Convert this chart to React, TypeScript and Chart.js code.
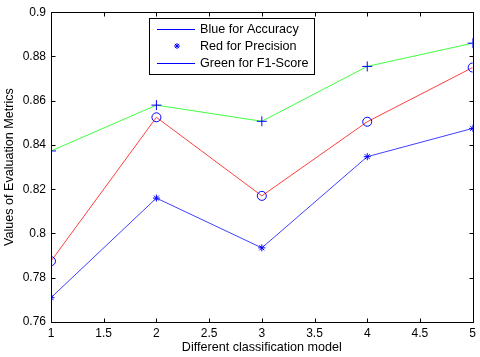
import React, { useEffect, useRef } from "react";
import { Chart, registerables } from "chart.js";

Chart.register(...registerables);

const models = [1, 2, 3, 4, 5];
const accuracy = [0.771, 0.816, 0.7935, 0.8347, 0.8475];
const precision = [0.7875, 0.8525, 0.817, 0.8505, 0.875];
const f1Score = [0.8373, 0.858, 0.8507, 0.8755, 0.886];
const legendLabels = ["Blue for Accuracy", "Red for Precision", "Green for F1-Score"];
const xTickValues = [1, 1.5, 2, 2.5, 3, 3.5, 4, 4.5, 5];
const yTickValues = [0.76, 0.78, 0.8, 0.82, 0.84, 0.86, 0.88, 0.9];
const xTitle = "Different classification model";
const yTitle = "Values of Evaluation Metrics";

const FONT = "'Liberation Sans', Arial, sans-serif";

const boxPlugin = {
  id: "matlabBox",
  afterDatasetsDraw(chart: any) {
    const { ctx, chartArea } = chart;
    const { left, right, top, bottom } = chartArea;
    const xs = chart.scales.x;
    const ys = chart.scales.y;
    ctx.save();
    ctx.strokeStyle = "#000";
    ctx.lineWidth = 1;
    const L = Math.round(left) + 0.5;
    const R = Math.round(right) + 0.5;
    const T = Math.round(top) + 0.5;
    const B = Math.round(bottom) + 0.5;
    ctx.beginPath();
    ctx.rect(L, T, R - L, B - T);
    ctx.stroke();
    const tl = 4;
    ctx.beginPath();
    xTickValues.forEach((v) => {
      const px = Math.round(xs.getPixelForValue(v)) + 0.5;
      ctx.moveTo(px, B);
      ctx.lineTo(px, B - tl);
      ctx.moveTo(px, T);
      ctx.lineTo(px, T + tl);
    });
    yTickValues.forEach((v) => {
      const py = Math.round(ys.getPixelForValue(v)) + 0.5;
      ctx.moveTo(L, py);
      ctx.lineTo(L + tl, py);
      ctx.moveTo(R, py);
      ctx.lineTo(R - tl, py);
    });
    ctx.stroke();

    // legend
    const bx = 149.5, by = 18.5, bw = 165, bh = 56;
    ctx.fillStyle = "#fff";
    ctx.fillRect(bx, by, bw, bh);
    ctx.strokeStyle = "#000";
    ctx.strokeRect(bx, by, bw, bh);
    const rows = [29, 46, 63];
    ctx.font = "12.6px " + FONT;
    ctx.textBaseline = "middle";
    ctx.textAlign = "left";
    rows.forEach((ry, i) => {
      ctx.strokeStyle = "#0000ff";
      ctx.lineWidth = 1;
      if (i === 1) {
        const cx = 177, r = 3;
        ctx.beginPath();
        ctx.moveTo(cx - r, ry); ctx.lineTo(cx + r, ry);
        ctx.moveTo(cx, ry - r); ctx.lineTo(cx, ry + r);
        ctx.moveTo(cx - r * 0.7, ry - r * 0.7); ctx.lineTo(cx + r * 0.7, ry + r * 0.7);
        ctx.moveTo(cx - r * 0.7, ry + r * 0.7); ctx.lineTo(cx + r * 0.7, ry - r * 0.7);
        ctx.stroke();
      } else {
        ctx.beginPath();
        ctx.moveTo(157, ry + 0.5);
        ctx.lineTo(195, ry + 0.5);
        ctx.stroke();
      }
      ctx.fillStyle = "#000";
      ctx.fillText(legendLabels[i], 200, ry + 1);
    });
    ctx.restore();
  },
};

export default function App() {
  const ref = useRef<HTMLCanvasElement | null>(null);
  useEffect(() => {
    document.body.style.margin = "0";
    const canvas = ref.current;
    if (!canvas) return;
    const mk = (data: number[], color: string, style: string, radius: number) => ({
      data: models.map((m, i) => ({ x: m, y: data[i] })),
      borderColor: color,
      borderWidth: 1,
      pointStyle: style,
      pointRadius: radius,
      pointBorderColor: "#0000ff",
      pointBackgroundColor: "rgba(0,0,0,0)",
      pointBorderWidth: 1,
      tension: 0,
      fill: false,
    });
    const chart = new Chart(canvas, {
      type: "line",
      data: {
        datasets: [
          mk(accuracy, "#4040ff", "star", 3.5),
          mk(precision, "#ff4040", "circle", 4.5),
          mk(f1Score, "#40ff40", "cross", 5),
        ] as any,
      },
      options: {
        animation: false,
        responsive: false,
        devicePixelRatio: 1,
        layout: { padding: { left: 0, right: 4, top: 7, bottom: 0 } },
        plugins: { legend: { display: false }, tooltip: { enabled: false } },
        scales: {
          x: {
            type: "linear",
            min: 1,
            max: 5,
            afterBuildTicks: (s: any) => {
              s.ticks = xTickValues.map((v) => ({ value: v }));
            },
            afterFit: (s: any) => {
              s.height = 35;
            },
            grid: { display: false, drawTicks: false },
            border: { display: false },
            ticks: {
              padding: 4,
              color: "#000",
              font: { family: FONT, size: 12 },
              maxRotation: 0,
              autoSkip: false,
              callback: (v: any) => String(Number(Number(v).toFixed(2))),
            },
            title: {
              display: true,
              text: xTitle,
              color: "#000",
              font: { family: FONT, size: 12.6 },
              padding: { top: 0, bottom: 2 },
            },
          },
          y: {
            type: "linear",
            min: 0.76,
            max: 0.9,
            afterBuildTicks: (s: any) => {
              s.ticks = yTickValues.map((v) => ({ value: v }));
            },
            afterFit: (s: any) => {
              s.width = 51;
            },
            grid: { display: false, drawTicks: false },
            border: { display: false },
            ticks: {
              padding: 5,
              color: "#000",
              font: { family: FONT, size: 12 },
              autoSkip: false,
              callback: (v: any) => String(Number(Number(v).toFixed(2))),
            },
            title: {
              display: true,
              text: yTitle,
              color: "#000",
              font: { family: FONT, size: 12.6 },
              padding: { top: 2, bottom: 0 },
            },
          },
        },
      },
      plugins: [boxPlugin],
    } as any);
    return () => chart.destroy();
  }, []);
  return (
    <div style={{ position: "absolute", left: 0, top: 0, width: 480, height: 357, background: "#fff" }}>
      <canvas ref={ref} width={480} height={357} style={{ width: 480, height: 357, display: "block" }} />
    </div>
  );
}
